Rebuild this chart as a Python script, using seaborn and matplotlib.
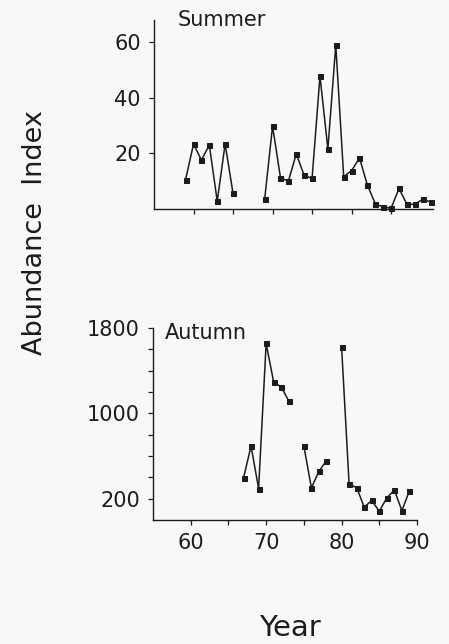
import matplotlib
matplotlib.use('Agg')
import matplotlib.pyplot as plt
import numpy as np
import pandas as pd
import seaborn as sns

# Summer abundance index (gap 1966-1968)
summer_years = list(range(59, 91))
summer_values = [10.6, 23.4, 17.6, 23.0, 2.8, 23.4, 5.6,
                 np.nan, np.nan, np.nan,
                 3.5, 29.8, 11.3, 10.0, 19.8, 12.1, 11.0, 47.8, 21.6, 59.0,
                 11.6, 13.8, 18.4, 8.6, 1.9, 0.7, 0.3, 7.4, 1.7, 1.7, 3.5, 2.5]

# Autumn abundance index (gaps 1974 and 1979)
autumn_years = list(range(67, 90))
autumn_values = [394, 693, 295, 1655, 1292, 1248, 1115,
                 np.nan,
                 693, 301, 457, 556,
                 np.nan,
                 1624, 335, 304, 121, 183, 81, 208, 280, 87, 276]

summer_ticks = [20, 40, 60]
autumn_ticks = [200, 1000, 1800]
year_ticks = [60, 70, 80, 90]

BG = '#f8f8f6'
INK = '#1c1c1c'


def to_frame(years, values):
    df = pd.DataFrame({'year': years, 'value': values})
    # a new segment starts after each missing year
    df['seg'] = df['value'].isna().cumsum()
    return df.dropna()


def draw_series(ax, df):
    sns.lineplot(data=df, x='year', y='value', units='seg', estimator=None,
                 color=INK, linewidth=1.1, marker='s', markersize=3.6,
                 markeredgecolor=INK, markerfacecolor=INK, ax=ax, clip_on=False)


sns.set_style('ticks')
plt.rcParams['font.family'] = ['DejaVu Sans']
plt.rcParams['axes.facecolor'] = BG
plt.rcParams['figure.facecolor'] = BG

W, H = 449, 644
fig = plt.figure(figsize=(W / 100, H / 100), dpi=100)


def px_axes(left, top, right, bottom):
    return fig.add_axes([left / W, 1 - bottom / H, (right - left) / W, (bottom - top) / H])


# Summer panel
ax1 = px_axes(154, 20, 433, 209)
draw_series(ax1, to_frame(summer_years, summer_values))
ax1.set_xlim(55, 90.3)
ax1.set_ylim(0, 68)
ax1.set_xticks([60, 65, 70, 75, 80, 85])
ax1.set_xticklabels([])
ax1.set_yticks(summer_ticks)
ax1.set_yticklabels([str(t) for t in summer_ticks])
ax1.text(0.085, 1.0, 'Summer', transform=ax1.transAxes, ha='left', va='center',
         fontsize=15, color=INK)

# Autumn panel
ax2 = px_axes(153, 328, 417, 520)
draw_series(ax2, to_frame(autumn_years, autumn_values))
ax2.set_xlim(55, 90)
ax2.set_ylim(0, 1800)
ax2.set_xticks([60, 65, 70, 75, 80, 85, 90])
ax2.set_xticklabels([str(t) if t in year_ticks else '' for t in [60, 65, 70, 75, 80, 85, 90]])
minor = list(range(200, 1801, 200))
ax2.set_yticks(minor)
ax2.set_yticklabels([str(t) if t in autumn_ticks else '' for t in minor])
ax2.text(0.045, 0.975, 'Autumn', transform=ax2.transAxes, ha='left', va='center',
         fontsize=15, color=INK)

for ax in (ax1, ax2):
    sns.despine(ax=ax)
    ax.set_xlabel('')
    ax.set_ylabel('')
    ax.spines['left'].set_linewidth(1.0)
    ax.spines['bottom'].set_linewidth(1.0)
    ax.spines['left'].set_color(INK)
    ax.spines['bottom'].set_color(INK)
    ax.tick_params(axis='both', direction='out', length=3.5, width=0.9,
                   color=INK, labelcolor=INK, labelsize=15, pad=6)

fig.text(35 / W, 1 - 233 / H, 'Abundance  Index', rotation=90, ha='center', va='center',
         fontsize=19.5, color=INK)
fig.text(290 / W, 1 - 628 / H, 'Year', ha='center', va='center', fontsize=21, color=INK)

fig.savefig('out.png', dpi=100, facecolor=BG)
